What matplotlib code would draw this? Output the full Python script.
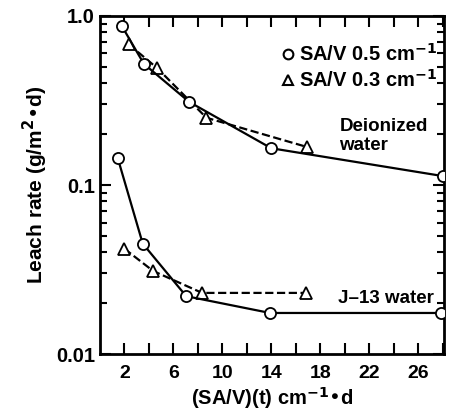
import matplotlib.pyplot as plt
from matplotlib.lines import Line2D
from matplotlib.ticker import FixedLocator, LogLocator, NullFormatter, FixedFormatter

plt.rcParams['font.family'] = ['Liberation Sans', 'DejaVu Sans']
plt.rcParams['font.weight'] = 'bold'

# Deionized water
di_x_05 = [1.8, 3.6, 7.3, 14.0, 28.0]
di_y_05 = [0.87, 0.52, 0.31, 0.165, 0.113]
di_x_03 = [2.35, 4.7, 8.7, 16.9]
di_y_03 = [0.68, 0.49, 0.25, 0.168]

# J-13 water
j13_x_05 = [1.45, 3.5, 7.05, 13.9, 27.9]
j13_y_05 = [0.145, 0.045, 0.022, 0.0175, 0.0175]
j13_x_03 = [2.0, 4.35, 8.35, 16.8]
j13_y_03 = [0.042, 0.031, 0.023, 0.023]

x_major = [2, 6, 10, 14, 18, 22, 26]
x_minor = [4, 8, 12, 16, 20, 24, 28]


def main():
    fig = plt.figure(figsize=(4.52, 4.2), dpi=100)
    ax = fig.add_axes([0.221, 0.157, 0.761, 0.805])

    mk = dict(mfc='white', mec='black', mew=1.3, ms=8, color='black', lw=1.6)
    ax.plot(di_x_05, di_y_05, '-', marker='o', **mk, zorder=3)
    ax.plot(di_x_03, di_y_03, '--', marker='^', **mk, zorder=2)
    ax.plot(j13_x_05, j13_y_05, '-', marker='o', **mk, zorder=3)
    ax.plot(j13_x_03, j13_y_03, '--', marker='^', **mk, zorder=2)

    ax.set_yscale('log')
    ax.set_ylim(0.01, 1.0)
    ax.set_xlim(0, 28.1)

    ax.xaxis.set_major_locator(FixedLocator(x_major))
    ax.xaxis.set_minor_locator(FixedLocator(x_minor))
    ax.yaxis.set_major_locator(FixedLocator([0.01, 0.1, 1.0]))
    ax.yaxis.set_major_formatter(FixedFormatter(['0.01', '0.1', '1.0']))
    ax.yaxis.set_minor_locator(LogLocator(base=10, subs=range(2, 10)))
    ax.yaxis.set_minor_formatter(NullFormatter())

    ax.tick_params(which='both', direction='in', top=True, right=True, width=1.5)
    ax.tick_params(which='major', length=8)
    ax.tick_params(which='minor', length=5)
    ax.tick_params(axis='x', which='minor', length=8)
    ax.tick_params(axis='x', labelsize=14, pad=8)
    ax.tick_params(axis='y', labelsize=14.5)
    for s in ax.spines.values():
        s.set_linewidth(2)

    ax.set_xlabel('(SA/V)(t) cm$^{\\mathbf{-1}}$•d', fontsize=14.5, fontweight='bold', labelpad=2)
    ax.set_ylabel('Leach rate (g/m$^{\\mathbf{2}}$•d)', fontsize=15, fontweight='bold', labelpad=4)

    handles = [
        Line2D([], [], ls='none', marker='o', mfc='white', mec='black', mew=1.5, ms=7),
        Line2D([], [], ls='none', marker='^', mfc='white', mec='black', mew=1.5, ms=7),
    ]
    ax.legend(handles, ['SA/V 0.5 cm$^{\\mathbf{-1}}$', 'SA/V 0.3 cm$^{\\mathbf{-1}}$'],
              loc='upper right', bbox_to_anchor=(0.985, 0.925), frameon=False,
              handlelength=0.5, handletextpad=0.3, labelspacing=0.2,
              borderpad=0.1, borderaxespad=0, prop={'size': 14.5, 'weight': 'bold'})

    ax.text(0.696, 0.645, 'Deionized\nwater', transform=ax.transAxes, ha='left',
            va='center', fontsize=13.5, fontweight='bold', linespacing=1.15)
    ax.text(0.97, 0.165, 'J–13 water', transform=ax.transAxes, ha='right',
            va='center', fontsize=13.5, fontweight='bold')

    fig.savefig('out.png', dpi=100)


if __name__ == '__main__':
    main()
